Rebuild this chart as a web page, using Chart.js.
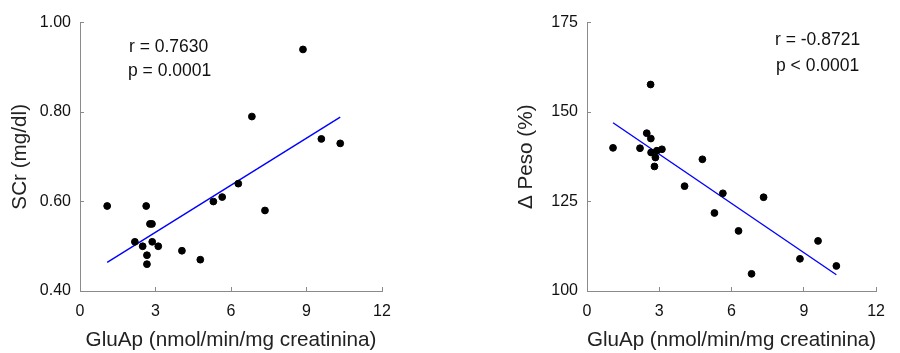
<!DOCTYPE html>
<html lang="es">
<head>
<meta charset="UTF-8">
<title>GluAp vs SCr y Δ Peso</title>
<script src="https://cdn.jsdelivr.net/npm/chart.js"></script>
<style>
    body {
        margin: 0;
        padding: 0;
        background: #ffffff;
        font-family: 'Liberation Sans', Arial, sans-serif;
    }
    .wrap {
        display: flex;
        width: 900px;
        height: 353px;
    }
    .panel {
        position: relative;
        width: 450px;
        height: 353px;
    }
</style>
</head>
<body>
<div class="wrap">
    <div class="panel"><canvas id="scrChart" width="450" height="353"></canvas></div>
    <div class="panel"><canvas id="pesoChart" width="450" height="353"></canvas></div>
</div>

<script>
// GluAp (nmol/min/mg creatinina) vs SCr (mg/dl)
const scrX = [1.08, 2.18, 2.49, 2.63, 2.66, 2.66, 2.78, 2.86, 2.87, 3.11, 4.05, 4.78, 5.30, 5.65, 6.29, 6.83, 7.35, 8.86, 9.59, 10.34];
const scrY = [0.59, 0.51, 0.50, 0.59, 0.48, 0.46, 0.55, 0.55, 0.51, 0.50, 0.49, 0.47, 0.60, 0.61, 0.64, 0.79, 0.58, 0.94, 0.74, 0.73];

// GluAp vs Δ Peso (%)
const pesoX = [1.08, 2.20, 2.48, 2.64, 2.65, 2.66, 2.80, 2.84, 2.90, 3.11, 4.05, 4.79, 5.29, 5.64, 6.29, 6.83, 7.33, 8.84, 9.59, 10.35];
const pesoY = [140.0, 139.9, 144.1, 157.7, 142.6, 138.7, 134.8, 137.3, 139.2, 139.6, 129.3, 136.8, 121.8, 127.3, 116.8, 104.8, 126.2, 109.0, 114.0, 107.0];

const xTicks = [0, 3, 6, 9, 12];
const scrTicks = [0.40, 0.60, 0.80, 1.00];
const pesoTicks = [100, 125, 150, 175];

const scrStats = ['r = 0.7630', 'p = 0.0001'];
const pesoStats = ['r = -0.8721', 'p < 0.0001'];

const FONT = "'Liberation Sans', Arial, sans-serif";
const AXIS_GRAY = '#8a8a8a';

// recta de regresión por mínimos cuadrados
function fitLine(xs, ys) {
    const n = xs.length;
    const mx = xs.reduce((a, b) => a + b, 0) / n;
    const my = ys.reduce((a, b) => a + b, 0) / n;
    let sxy = 0, sxx = 0;
    for (let i = 0; i < n; i++) {
        sxy += (xs[i] - mx) * (ys[i] - my);
        sxx += (xs[i] - mx) * (xs[i] - mx);
    }
    const b = sxy / sxx;
    const a = my - b * mx;
    const x0 = Math.min(...xs), x1 = Math.max(...xs);
    return [{x: x0, y: a + b * x0}, {x: x1, y: a + b * x1}];
}

// texto r / p dentro del gráfico
const statsText = {
    id: 'statsText',
    afterDraw(chart, args, opts) {
        const ctx = chart.ctx;
        ctx.save();
        ctx.fillStyle = '#111';
        ctx.font = '17.5px ' + FONT;
        ctx.textBaseline = 'alphabetic';
        ctx.textAlign = 'left';
        opts.lines.forEach((t, i) => ctx.fillText(t, opts.x[i], opts.y[i]));
        ctx.restore();
    }
};

function makeChart(id, xs, ys, yTicks, yMin, yMax, yTitle, fmt, pad, yAxisW, yTitlePad, stats) {
    const pts = xs.map((x, i) => ({x: x, y: ys[i]}));
    return new Chart(document.getElementById(id), {
        type: 'scatter',
        data: {
            datasets: [{
                data: pts,
                backgroundColor: '#000',
                borderColor: '#000',
                pointRadius: 3.4,
                pointHoverRadius: 3.4
            }, {
                type: 'line',
                data: fitLine(xs, ys),
                borderColor: '#0000ff',
                borderWidth: 1.4,
                pointRadius: 0,
                fill: false
            }]
        },
        options: {
            responsive: false,
            animation: false,
            layout: { padding: pad },
            plugins: {
                legend: { display: false },
                tooltip: { enabled: false },
                statsText: stats
            },
            scales: {
                x: {
                    type: 'linear',
                    min: 0,
                    max: 12,
                    afterBuildTicks: s => { s.ticks = xTicks.map(v => ({value: v})); },
                    afterFit: s => { s.height = 62; },
                    border: { color: AXIS_GRAY, width: 1 },
                    grid: { drawOnChartArea: false, color: AXIS_GRAY, tickLength: -4 },
                    ticks: {
                        padding: 15,
                        color: '#111',
                        font: { family: FONT, size: 16 }
                    },
                    title: {
                        display: true,
                        text: 'GluAp (nmol/min/mg creatinina)',
                        color: '#222',
                        font: { family: FONT, size: 20.7 },
                        padding: { top: 0, bottom: 0 }
                    }
                },
                y: {
                    type: 'linear',
                    min: yMin,
                    max: yMax,
                    afterBuildTicks: s => { s.ticks = yTicks.map(v => ({value: v})); },
                    afterFit: s => { s.width = yAxisW; },
                    border: { color: AXIS_GRAY, width: 1 },
                    grid: { drawOnChartArea: false, color: AXIS_GRAY, tickLength: -4 },
                    ticks: {
                        padding: 13,
                        color: '#111',
                        font: { family: FONT, size: 16 },
                        callback: fmt
                    },
                    title: {
                        display: true,
                        text: yTitle,
                        color: '#222',
                        font: { family: FONT, size: 20.7 },
                        padding: { top: yTitlePad, bottom: 0 }
                    }
                }
            }
        },
        plugins: [statsText]
    });
}

makeChart('scrChart', scrX, scrY, scrTicks, 0.40, 1.00, 'SCr (mg/dl)',
    v => Number(v).toFixed(2),
    { top: 19, right: 68, left: 0, bottom: 0 }, 80, 8,
    { lines: scrStats, x: [129, 128], y: [51.5, 75.5] });

makeChart('pesoChart', pesoX, pesoY, pesoTicks, 100, 175, 'Δ Peso (%)',
    v => String(v),
    { top: 18, right: 10, left: 0, bottom: 0 }, 137, 64,
    { lines: pesoStats, x: [325, 326], y: [44.5, 71] });
</script>
</body>
</html>
